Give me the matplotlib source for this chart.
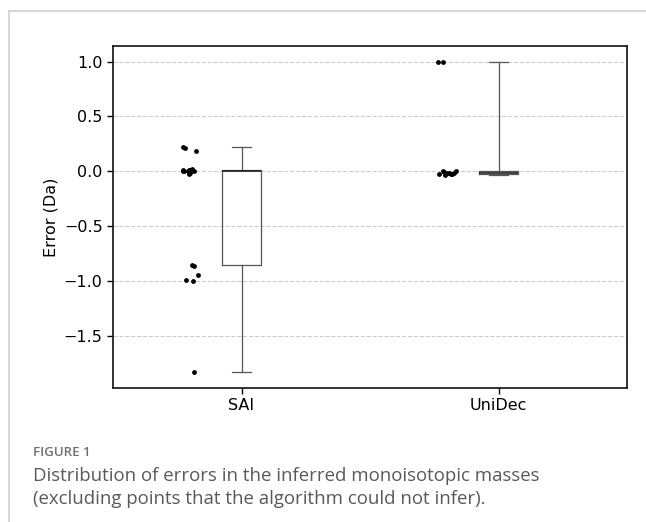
import numpy as np
import matplotlib
matplotlib.use("Agg")
import matplotlib.pyplot as plt
from matplotlib.lines import Line2D

# errors (Da)
methods = ["SAI", "UniDec"]
sai_err = [0.22, 0.21, 0.19,
           0.02, 0.01, 0.01, 0.01, 0.0, 0.0, 0.0, 0.0, -0.01, -0.02,
           -0.85, -0.86, -0.94, -0.99, -1.0, -1.83]
unidec_err = [1.0, 1.0,
              0.0, 0.0, -0.005, -0.01, -0.01, -0.015, -0.02, -0.02, -0.025, -0.03]
y_ticks = [1.0, 0.5, 0.0, -0.5, -1.0, -1.5]

W, H = 646, 522
fig = plt.figure(figsize=(W / 100, H / 100), dpi=100)
ax = fig.add_axes([113 / W, 1 - 388 / H, (627 - 113) / W, (388 - 46) / H])

data = [sai_err, unidec_err]
pos = [1, 2]

# jittered points, shifted left of each box
rng = np.random.default_rng(3)
for p, d in zip(pos, data):
    x = p - 0.2 + rng.uniform(-0.035, 0.035, len(d))
    ax.scatter(x, d, s=12, color="black", zorder=3, linewidths=0)

box_style = dict(color="#555555", linewidth=0.9)
ax.boxplot(data, positions=pos, whis=(0, 100), showfliers=False,
           boxprops=box_style, whiskerprops=box_style, capprops=box_style,
           medianprops=dict(color="#222222", linewidth=1.2))

ax.set_xticks(pos)
ax.set_xticklabels(methods)
ax.set_xlim(0.5, 2.5)
ax.set_yticks(y_ticks)
ax.set_yticklabels(["1.0", "0.5", "0.0", "\u22120.5", "\u22121.0", "\u22121.5"])
ax.tick_params(labelsize=11.5, length=4, width=1)
ax.set_ylabel("Error (Da)", fontsize=11.5)
ax.yaxis.grid(True, linestyle="--", color="#cccccc", linewidth=0.8)
ax.set_axisbelow(True)
for s in ax.spines.values():
    s.set_linewidth(1.3)
    s.set_color("#222222")

# page frame lines
fig.add_artist(Line2D([9 / W, 1], [1 - 11 / H, 1 - 11 / H], color="#d0d0d0", lw=1.2))
fig.add_artist(Line2D([9 / W, 9 / W], [0, 1 - 11 / H], color="#d0d0d0", lw=1.2))

fig.text(33 / W, 1 - 452 / H, "FIGURE 1", fontsize=9.5, color="#707070",
         family="Open Sans", weight="semibold", va="center")
fig.text(33 / W, 1 - 476 / H, "Distribution of errors in the inferred monoisotopic masses",
         fontsize=13.4, color="#595959", family="Open Sans", va="center")
fig.text(33 / W, 1 - 499 / H, "(excluding points that the algorithm could not infer).",
         fontsize=13.4, color="#595959", family="Open Sans", va="center")

fig.savefig("out.png", dpi=100)
